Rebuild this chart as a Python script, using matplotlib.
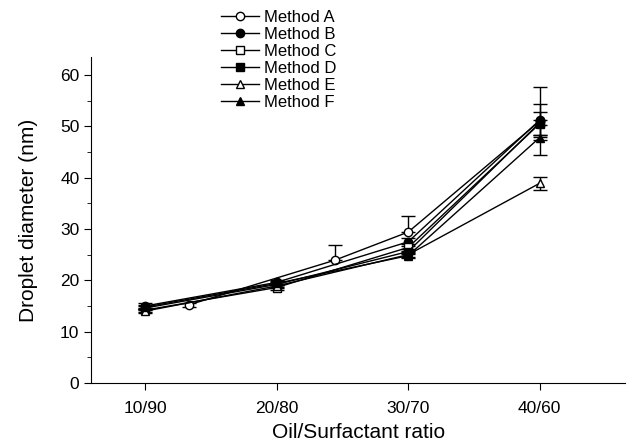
import matplotlib
matplotlib.use("Agg")
import matplotlib.pyplot as plt
from matplotlib.lines import Line2D
from matplotlib.ticker import MultipleLocator

plt.rcParams["font.family"] = ["Liberation Sans", "DejaVu Sans"]

ratio_labels = ["10/90", "20/80", "30/70", "40/60"]
ratio_x = [10, 20, 30, 40]

# Method A was measured at slightly shifted oil fractions
a_x = [13.3, 24.4, 30, 40]
a_y = [15.2, 23.9, 29.4, 51.0]
a_err_lo = [0.3, 0.0, 0.0, 6.6]
a_err_hi = [0.3, 3.0, 3.2, 6.6]

b_y = [15.0, 19.6, 27.5, 51.2]
b_err = [0.5, 0.5, 0.8, 3.2]
c_y = [14.2, 18.6, 26.4, 50.5]
c_err = [0.4, 0.4, 0.6, 2.2]
d_y = [14.6, 19.2, 25.6, 50.7]
d_err = [0.4, 0.5, 0.5, 0.5]
e_y = [14.0, 18.9, 25.0, 38.9]
e_err = [0.4, 0.4, 0.5, 1.3]
f_y = [14.8, 19.4, 24.8, 47.8]
f_err = [0.4, 0.4, 0.5, 0.5]

series = [
    ("Method A", a_x, a_y, [a_err_lo, a_err_hi], "o", "white"),
    ("Method B", ratio_x, b_y, b_err, "o", "black"),
    ("Method C", ratio_x, c_y, c_err, "s", "white"),
    ("Method D", ratio_x, d_y, d_err, "s", "black"),
    ("Method E", ratio_x, e_y, e_err, "^", "white"),
    ("Method F", ratio_x, f_y, f_err, "^", "black"),
]

fig = plt.figure(figsize=(6.29, 4.48), dpi=100)
ax = fig.add_axes([0.145, 0.145, 0.849, 0.728])

handles = []
for name, x, y, err, m, fc in series:
    ax.errorbar(x, y, yerr=err, color="black", lw=1.0, marker=m, ms=6,
                mfc=fc, mec="black", mew=1.0, capsize=5, elinewidth=1.0,
                capthick=1.0)
    handles.append(Line2D([], [], color="black", lw=1.0, marker=m, ms=6,
                          mfc=fc, mec="black", mew=1.0, label=name))

ax.set_xlim(5.9, 46.5)
ax.set_ylim(0, 63.5)
ax.set_xticks(ratio_x)
ax.set_xticklabels(ratio_labels)
ax.yaxis.set_major_locator(MultipleLocator(10))
ax.yaxis.set_minor_locator(MultipleLocator(5))
ax.tick_params(labelsize=12.5, direction="out", length=5)
ax.tick_params(axis="x", pad=8)
ax.tick_params(which="minor", length=3)
ax.spines["top"].set_visible(False)
ax.spines["right"].set_visible(False)
ax.set_xlabel("Oil/Surfactant ratio", fontsize=15, labelpad=5)
ax.set_ylabel("Droplet diameter (nm)", fontsize=15, labelpad=16)

fig.legend(handles=handles, loc="upper left", bbox_to_anchor=(0.335, 1.0),
           frameon=False, fontsize=12, handlelength=2.3, handletextpad=0.3,
           labelspacing=0.12, borderaxespad=0.2)

fig.savefig("out.png", dpi=100)
